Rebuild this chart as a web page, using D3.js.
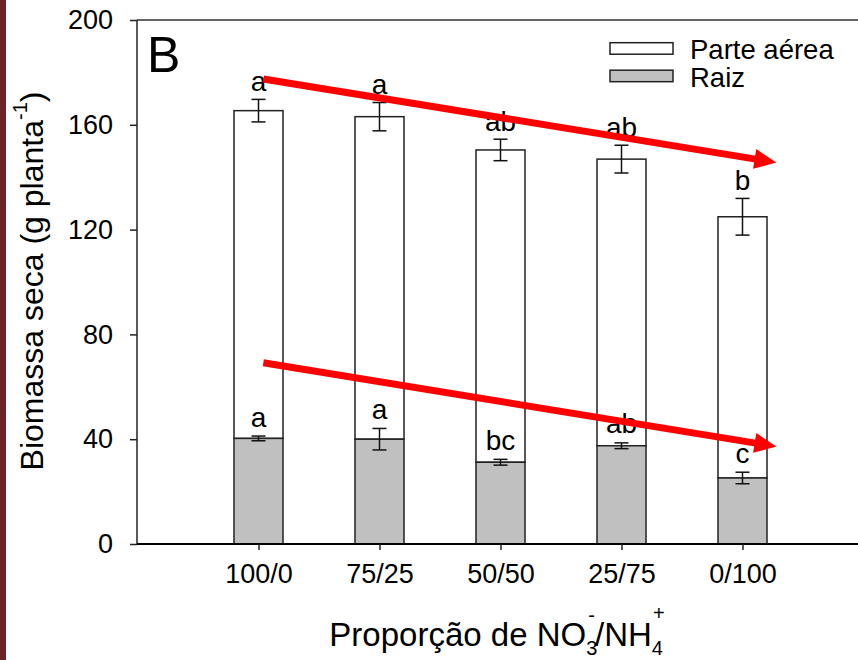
<!DOCTYPE html>
<html>
<head>
<meta charset="utf-8">
<script src="https://cdn.jsdelivr.net/npm/d3@7"></script>
<style>
  html, body { margin: 0; padding: 0; background: #fff; }
  svg { display: block; font-family: "Liberation Sans", Arial, sans-serif; }
</style>
</head>
<body>
<div id="chart"></div>
<script>
// Dry biomass per NO3-/NH4+ proportion: shoot + root stacked bars
const categories = ["100/0", "75/25", "50/50", "25/75", "0/100"];
const totalMass = [165.4, 163.1, 150.4, 146.9, 124.9];   // shoot + root
const totalErr = [4.3, 5.4, 4.1, 5.3, 7.0];
const rootMass = [40.3, 40.0, 31.2, 37.5, 25.2];
const rootErr = [0.9, 4.1, 1.1, 1.1, 2.2];
const totalLetters = ["a", "a", "ab", "ab", "b"];
const rootLetters = ["a", "a", "bc", "ab", "c"];
const yTicks = [0, 40, 80, 120, 160, 200];
const seriesNames = ["Parte aérea", "Raiz"];
const seriesFills = ["#ffffff", "#c0c0c0"];
// Trend arrows, in (category position, biomass) units
const trendArrows = [
  { x1: 1.04, y1: 177.5, x2: 5.28, y2: 145.6 },
  { x1: 1.04, y1: 69.2, x2: 5.28, y2: 37.2 }
];

const W = 858, H = 660;
const svg = d3.select("#chart").append("svg").attr("width", W).attr("height", H);

// left edge strip
svg.append("rect").attr("x", 0).attr("y", 0).attr("width", 6).attr("height", H).attr("fill", "#6b2428");

const x = d3.scaleLinear().domain([0, 6]).range([137.5, 863.5]);
const y = d3.scaleLinear().domain([0, 200]).range([544, 20]);
const barW = 49;

// frame: top line
svg.append("line").attr("x1", 137).attr("x2", W).attr("y1", y(200)).attr("y2", y(200))
  .attr("stroke", "#333").attr("stroke-width", 1.5);

// bars
const g = svg.append("g");
categories.forEach((c, i) => {
  const cx = x(i + 1);
  g.append("rect").attr("x", cx - barW / 2).attr("y", y(totalMass[i]))
    .attr("width", barW).attr("height", y(rootMass[i]) - y(totalMass[i]))
    .attr("fill", seriesFills[0]).attr("stroke", "#222").attr("stroke-width", 1.5);
  g.append("rect").attr("x", cx - barW / 2).attr("y", y(rootMass[i]))
    .attr("width", barW).attr("height", y(0) - y(rootMass[i]))
    .attr("fill", seriesFills[1]).attr("stroke", "#222").attr("stroke-width", 1.5);
});

// error bars
function errBar(cx, v, e) {
  const eg = g.append("g").attr("stroke", "#111").attr("stroke-width", 1.5);
  eg.append("line").attr("x1", cx).attr("x2", cx).attr("y1", y(v - e)).attr("y2", y(v + e));
  [v - e, v + e].forEach(t => {
    eg.append("line").attr("x1", cx - 7).attr("x2", cx + 7).attr("y1", y(t)).attr("y2", y(t));
  });
}
categories.forEach((c, i) => {
  errBar(x(i + 1), totalMass[i], totalErr[i]);
  errBar(x(i + 1), rootMass[i], rootErr[i]);
});

// significance letters
categories.forEach((c, i) => {
  g.append("text").attr("x", x(i + 1)).attr("y", y(totalMass[i] + totalErr[i]) - 8.5)
    .attr("text-anchor", "middle").attr("font-size", 28).text(totalLetters[i]);
  g.append("text").attr("x", x(i + 1)).attr("y", y(rootMass[i] + rootErr[i]) - 9.5)
    .attr("text-anchor", "middle").attr("font-size", 28).text(rootLetters[i]);
});

// y axis
const yAxis = d3.axisLeft(y).tickValues(yTicks).tickSize(7).tickPadding(17).tickFormat(d3.format("d"));
const ya = svg.append("g").attr("transform", "translate(137,0)").call(yAxis);
ya.select(".domain").attr("stroke", "#222").attr("stroke-width", 1.5).attr("d", `M0,${y(0)}V${y(200)}`);
ya.selectAll(".tick line").attr("stroke", "#222").attr("stroke-width", 1.5);
ya.selectAll(".tick text").attr("font-size", 27).attr("fill", "#000").attr("font-family", "Liberation Sans, Arial, sans-serif");

// x axis
const xAxis = d3.axisBottom(x).tickValues([1, 2, 3, 4, 5]).tickSize(6).tickPadding(14)
  .tickFormat(d => categories[d - 1]);
const xa = svg.append("g").attr("transform", `translate(0,${y(0)})`).call(xAxis);
xa.select(".domain").attr("stroke", "#000").attr("stroke-width", 2).attr("d", `M137,0H${W}`);
xa.selectAll(".tick line").attr("stroke", "#222").attr("stroke-width", 1.5);
xa.selectAll(".tick text").attr("font-size", 27).attr("fill", "#000").attr("font-family", "Liberation Sans, Arial, sans-serif");

// panel letter
svg.append("text").attr("x", 147).attr("y", 71.5).attr("font-size", 50).text("B");

// legend
seriesNames.forEach((s, i) => {
  const ly = 42.7 + i * 27.5;
  svg.append("rect").attr("x", 610).attr("y", ly).attr("width", 63).attr("height", 11.5)
    .attr("fill", seriesFills[i]).attr("stroke", "#222").attr("stroke-width", 1.5);
  svg.append("text").attr("x", 690).attr("y", ly + 16.5).attr("font-size", 27.5).text(s);
});

// axis titles
const yt = svg.append("text").attr("transform", "translate(43,281) rotate(-90)")
  .attr("text-anchor", "middle").attr("font-size", 32);
yt.append("tspan").text("Biomassa seca (g planta");
yt.append("tspan").attr("font-size", 20).attr("dy", -16).text("-1");
yt.append("tspan").attr("dy", 16).text(")");

const xt = svg.append("text").attr("x", 497).attr("y", 646)
  .attr("text-anchor", "middle").attr("font-size", 33);
xt.append("tspan").text("Proporção de NO");
xt.append("tspan").attr("font-size", 20).attr("dy", 9).text("3");
xt.append("tspan").attr("font-size", 20).attr("dx", -9).attr("dy", -33).text("-");
xt.append("tspan").attr("dy", 24).text("/NH");
xt.append("tspan").attr("font-size", 20).attr("dy", 9).text("4");
xt.append("tspan").attr("font-size", 20).attr("dx", -10).attr("dy", -35).text("+");

// trend arrows
trendArrows.forEach(a => {
  const X1 = x(a.x1), Y1 = y(a.y1), X2 = x(a.x2), Y2 = y(a.y2);
  const ang = Math.atan2(Y2 - Y1, X2 - X1);
  const headLen = 22, headHalf = 10;
  const bx = X2 - headLen * Math.cos(ang), by = Y2 - headLen * Math.sin(ang);
  svg.append("line").attr("x1", X1).attr("y1", Y1).attr("x2", bx + Math.cos(ang)).attr("y2", by + Math.sin(ang))
    .attr("stroke", "#ff0000").attr("stroke-width", 7);
  const px = -Math.sin(ang), py = Math.cos(ang);
  svg.append("path")
    .attr("d", `M${X2},${Y2}L${bx + px * headHalf},${by + py * headHalf}L${bx - px * headHalf},${by - py * headHalf}Z`)
    .attr("fill", "#ff0000");
});
</script>
</body>
</html>
